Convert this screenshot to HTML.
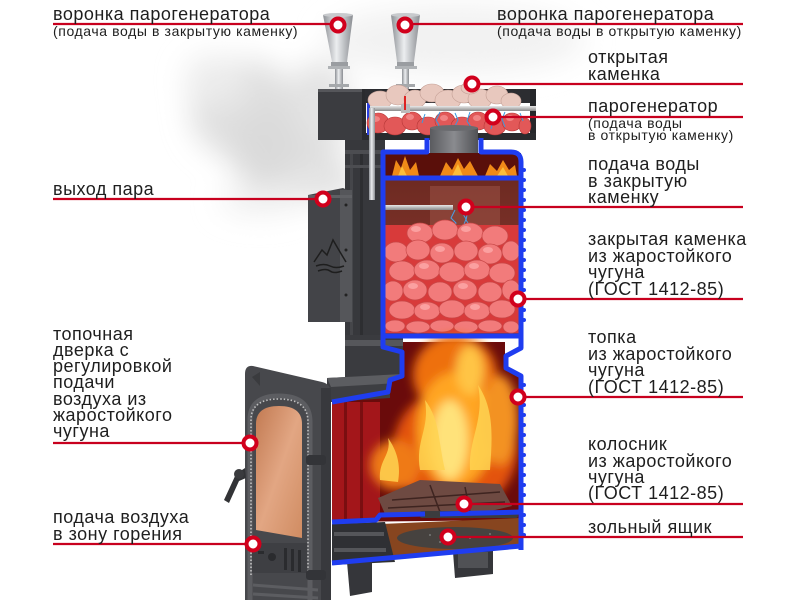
<!DOCTYPE html>
<html><head><meta charset="utf-8"><style>
html,body{margin:0;padding:0;background:#fff;}
svg{display:block;}
.t{font-family:"Liberation Sans","DejaVu Sans",sans-serif;font-size:18px;letter-spacing:0.5px;fill:#1e1e1e;}
.s{font-family:"Liberation Sans","DejaVu Sans",sans-serif;font-size:14px;letter-spacing:0.6px;fill:#1e1e1e;}
</style></head><body>
<svg width="800" height="600" viewBox="0 0 800 600" xmlns="http://www.w3.org/2000/svg">
<defs>
<filter id="cloud" x="-50%" y="-50%" width="200%" height="200%"><feGaussianBlur stdDeviation="14"/></filter>
<filter id="b5" x="-50%" y="-50%" width="200%" height="200%"><feGaussianBlur stdDeviation="5"/></filter>
<linearGradient id="metal" x1="0" x2="1" y1="0" y2="0"><stop offset="0" stop-color="#8d9095"/><stop offset="0.45" stop-color="#eceef0"/><stop offset="1" stop-color="#8a8d92"/></linearGradient>
<linearGradient id="pipe" x1="0" x2="0" y1="0" y2="1"><stop offset="0" stop-color="#e8e8e8"/><stop offset="1" stop-color="#8a8a8a"/></linearGradient>
<linearGradient id="glass" x1="0" x2="1" y1="0" y2="1"><stop offset="0" stop-color="#c27a52"/><stop offset="0.5" stop-color="#e2a683"/><stop offset="1" stop-color="#d08c62"/></linearGradient>
<linearGradient id="wall" x1="0" x2="0" y1="0" y2="1"><stop offset="0" stop-color="#6e2a22"/><stop offset="1" stop-color="#8c3b30"/></linearGradient>
<linearGradient id="neck" x1="0" x2="1"><stop offset="0" stop-color="#5a5b5f"/><stop offset="0.5" stop-color="#8a8b8f"/><stop offset="1" stop-color="#505155"/></linearGradient>
</defs>

<!-- steam cloud -->
<g filter="url(#cloud)">
<ellipse cx="455" cy="40" rx="130" ry="35" fill="#f2f2f2"/>
<ellipse cx="245" cy="110" rx="55" ry="50" fill="#e0e0e0"/>
<ellipse cx="285" cy="150" rx="55" ry="45" fill="#dadada"/>
<ellipse cx="320" cy="105" rx="30" ry="45" fill="#e3e3e3"/>
<ellipse cx="320" cy="180" rx="40" ry="22" fill="#e4e4e4"/>
<ellipse cx="215" cy="80" rx="30" ry="25" fill="#ececec"/>
<ellipse cx="260" cy="200" rx="40" ry="15" fill="#f0f0f0"/>
</g>

<!-- funnels -->
<g>
<polygon points="323,15 353,15 347,62 332,62" fill="url(#metal)"/>
<ellipse cx="338" cy="15" rx="15" ry="2" fill="#c8cacd"/>
<rect x="331" y="62" width="17" height="4" fill="#9a9da1"/>
<rect x="328" y="66" width="22" height="3" fill="#b0b3b6"/>
<rect x="335" y="69" width="8" height="20" fill="url(#metal)"/>
<rect x="329" y="84" width="20" height="3" fill="#a5a8ab"/>
<polygon points="391,15 420,15 414,62 397,62" fill="url(#metal)"/>
<ellipse cx="405.5" cy="15" rx="14.5" ry="2" fill="#c8cacd"/>
<rect x="397" y="62" width="17" height="4" fill="#9a9da1"/>
<rect x="395" y="66" width="22" height="3" fill="#b0b3b6"/>
<rect x="402" y="69" width="7" height="40" fill="url(#metal)"/>
<rect x="396" y="84" width="19" height="3" fill="#a5a8ab"/>
</g>

<!-- body behind upper chamber -->
<rect x="345" y="140" width="40" height="205" fill="#37383c"/>
<rect x="350" y="150" width="3" height="190" fill="#45464a"/>
<rect x="360" y="150" width="3" height="190" fill="#2d2e31"/>
<rect x="345" y="150" width="40" height="4" fill="#4c4d51"/>
<rect x="345" y="165" width="40" height="3" fill="#4c4d51"/>

<!-- open stone box -->
<rect x="318" y="89" width="47" height="51" fill="#3b3c40"/>
<rect x="318" y="89" width="47" height="3" fill="#55565a"/>
<rect x="362" y="89" width="4" height="51" fill="#2a2b2e"/>
<rect x="365" y="89" width="171" height="14" fill="#2c2d31"/>
<rect x="530" y="89" width="6" height="48" fill="#26272a"/>
<rect x="365" y="133" width="171" height="7" fill="#2a2b2e"/>
<rect x="367" y="103" width="3" height="32" fill="#2b3fe0"/>
<g fill="#e25858" stroke="#b83838" stroke-width="0.6">
<ellipse cx="378" cy="123" rx="11" ry="10"/><ellipse cx="395" cy="126" rx="11" ry="9"/>
<ellipse cx="412" cy="121" rx="10" ry="9"/><ellipse cx="428" cy="126" rx="11" ry="9"/>
<ellipse cx="445" cy="121" rx="10" ry="9"/><ellipse cx="462" cy="126" rx="11" ry="9"/>
<ellipse cx="478" cy="121" rx="10" ry="9"/><ellipse cx="495" cy="126" rx="11" ry="9"/>
<ellipse cx="512" cy="122" rx="10" ry="9"/><ellipse cx="525" cy="126" rx="6" ry="8"/>
</g>
<g fill="#f59090" opacity="0.8">
<ellipse cx="375" cy="119" rx="5" ry="3"/><ellipse cx="410" cy="117" rx="4" ry="3"/><ellipse cx="444" cy="118" rx="4" ry="3"/><ellipse cx="477" cy="118" rx="4" ry="3"/><ellipse cx="510" cy="118" rx="4" ry="3"/>
</g>
<g fill="#e8c8be" stroke="#c4a096" stroke-width="0.6">
<ellipse cx="380" cy="100" rx="12" ry="9"/><ellipse cx="398" cy="95" rx="12" ry="10"/>
<ellipse cx="415" cy="99" rx="11" ry="9"/><ellipse cx="432" cy="93" rx="12" ry="9"/>
<ellipse cx="448" cy="100" rx="13" ry="10"/><ellipse cx="464" cy="94" rx="12" ry="9"/>
<ellipse cx="480" cy="99" rx="12" ry="10"/><ellipse cx="497" cy="95" rx="11" ry="9"/>
<ellipse cx="511" cy="101" rx="10" ry="8"/><ellipse cx="470" cy="88" rx="9" ry="6"/>
</g>
<rect x="370" y="106" width="166" height="5" fill="url(#pipe)"/>
<rect x="401" y="104" width="9" height="9" fill="#bbb"/>
<rect x="404" y="96" width="2" height="14" fill="#d22"/>
<rect x="369" y="108" width="6" height="92" fill="url(#metal)"/>
<g stroke="#3a9ae0" stroke-width="1" fill="none">
<path d="M440 112 l-4 8 l3 5 l-3 6"/><path d="M455 113 l3 7 l-3 6"/><path d="M470 112 l-3 9 l4 6"/>
<path d="M490 114 l3 7 l-2 8"/><path d="M505 112 l-3 7 l3 8"/><path d="M520 113 l3 8"/><path d="M425 114 l-3 9"/>
</g>

<rect x="430" y="128" width="48" height="26" fill="url(#neck)"/>
<ellipse cx="454" cy="128" rx="24" ry="3" fill="#6a6b6f"/>

<!-- upper chamber -->
<rect x="383" y="153" width="138" height="24" fill="#5a0f0a"/>
<g fill="#f08a18">
<path d="M392 176 L396 160 L401 168 L405 156 L410 170 L416 162 L419 176 Z"/>
<path d="M440 176 L446 162 L452 170 L458 158 L464 169 L470 161 L478 176 Z"/>
<path d="M485 176 L490 164 L497 171 L503 160 L509 170 L515 165 L517 176 Z"/>
</g>
<g fill="#ffc640" opacity="0.85">
<path d="M398 176 L402 166 L407 176 Z"/><path d="M452 176 L458 164 L463 176 Z"/><path d="M497 176 L503 167 L508 176 Z"/>
</g>
<rect x="383" y="180" width="138" height="155" fill="url(#wall)"/>
<rect x="430" y="186" width="70" height="70" fill="#a55a4e" opacity="0.45"/>
<rect x="383" y="205" width="70" height="5" fill="url(#pipe)"/>
<g stroke="#4aa0e8" stroke-width="1" fill="none">
<path d="M455 210 l-4 8 l5 5 l-3 7"/><path d="M462 212 l4 7 l-3 8"/><path d="M468 210 l-2 10 l4 6"/>
</g>
<rect x="385" y="225" width="134" height="108" fill="#d83a3a"/>
<g fill="#f27b7b" stroke="#c84848" stroke-width="0.7">
<ellipse cx="420" cy="233" rx="13" ry="10"/><ellipse cx="445" cy="230" rx="13" ry="10"/><ellipse cx="470" cy="233" rx="13" ry="10"/><ellipse cx="495" cy="236" rx="13" ry="10"/>
<ellipse cx="396" cy="252" rx="12" ry="10"/><ellipse cx="418" cy="250" rx="12" ry="10"/><ellipse cx="442" cy="253" rx="12" ry="10"/><ellipse cx="466" cy="251" rx="12" ry="10"/><ellipse cx="490" cy="254" rx="12" ry="10"/><ellipse cx="511" cy="251" rx="9" ry="10"/>
<ellipse cx="402" cy="271" rx="13" ry="10"/><ellipse cx="427" cy="270" rx="13" ry="10"/><ellipse cx="452" cy="272" rx="13" ry="10"/><ellipse cx="477" cy="270" rx="13" ry="10"/><ellipse cx="502" cy="273" rx="13" ry="10"/>
<ellipse cx="393" cy="291" rx="10" ry="10"/><ellipse cx="415" cy="290" rx="12" ry="10"/><ellipse cx="440" cy="292" rx="12" ry="10"/><ellipse cx="465" cy="290" rx="12" ry="10"/><ellipse cx="490" cy="292" rx="12" ry="10"/><ellipse cx="511" cy="290" rx="9" ry="10"/>
<ellipse cx="402" cy="310" rx="13" ry="9"/><ellipse cx="427" cy="311" rx="13" ry="9"/><ellipse cx="452" cy="309" rx="13" ry="9"/><ellipse cx="477" cy="311" rx="13" ry="9"/><ellipse cx="502" cy="309" rx="13" ry="9"/>
<ellipse cx="395" cy="326" rx="10" ry="6"/><ellipse cx="418" cy="327" rx="12" ry="6"/><ellipse cx="442" cy="326" rx="12" ry="6"/><ellipse cx="466" cy="327" rx="12" ry="6"/><ellipse cx="490" cy="326" rx="12" ry="6"/><ellipse cx="511" cy="327" rx="8" ry="6"/>
</g>
<g fill="#ffb0b0" opacity="0.7">
<ellipse cx="416" cy="229" rx="5" ry="3"/><ellipse cx="466" cy="229" rx="5" ry="3"/><ellipse cx="440" cy="249" rx="5" ry="3"/><ellipse cx="488" cy="250" rx="5" ry="3"/><ellipse cx="424" cy="266" rx="5" ry="3"/><ellipse cx="474" cy="266" rx="5" ry="3"/><ellipse cx="413" cy="286" rx="5" ry="3"/><ellipse cx="463" cy="286" rx="5" ry="3"/><ellipse cx="425" cy="307" rx="5" ry="3"/><ellipse cx="475" cy="307" rx="5" ry="3"/>
</g>

<!-- steam outlet box -->
<path d="M308 195 L343 188 L352 192 L352 322 L308 322 Z" fill="#434448"/>
<rect x="340" y="190" width="12" height="132" fill="#55565a"/>
<rect x="308" y="195" width="44" height="3" fill="#5f6064"/>
<g fill="#222"><circle cx="346" cy="205" r="1.5"/><circle cx="346" cy="250" r="1.5"/><circle cx="346" cy="295" r="1.5"/></g>
<g stroke="#1e1e1e" stroke-width="1.5" fill="none">
<polyline points="314,262 322,250 327,255 333,240 340,252 346,262"/>
<path d="M316 266 q8 -3 14 0 t14 0"/><path d="M318 271 q8 -3 12 0 t12 0"/>
</g>

<!-- middle body between chambers -->
<path d="M345 335 L403 335 L403 380 L345 380 Z" fill="#3a3b3f"/>
<rect x="345" y="340" width="58" height="6" fill="#56575b"/>
<path d="M327 378 L403 374 L403 402 L327 402 Z" fill="#3d3e42"/>
<path d="M327 378 L403 374 L398 383 L331 387 Z" fill="#5c5d61"/>

<!-- firebox interior -->
<path d="M332 402 L390 398 L390 382 L403 378 L403 342 L505 342 L505 368 L520 376 L520 520 L332 522 Z" fill="#6a0b0b"/>
<rect x="332" y="402" width="48" height="118" fill="#a3161a"/>
<rect x="344" y="402" width="3" height="118" fill="#7a0e10"/>
<rect x="360" y="402" width="3" height="118" fill="#7a0e10"/>
<g filter="url(#b5)">
<ellipse cx="455" cy="450" rx="62" ry="62" fill="#e3520c"/>
<ellipse cx="455" cy="375" rx="42" ry="40" fill="#ee700e"/>
<ellipse cx="395" cy="465" rx="25" ry="25" fill="#ef7a12"/>
<ellipse cx="455" cy="430" rx="38" ry="58" fill="#ffa521"/>
<ellipse cx="500" cy="420" rx="18" ry="45" fill="#f39224"/>
<ellipse cx="450" cy="440" rx="18" ry="40" fill="#ffe27a"/>
<ellipse cx="470" cy="370" rx="14" ry="25" fill="#ffc445"/>
</g>
<g fill="#ffd451" opacity="0.85">
<path d="M420 470 C415 440 430 430 425 400 C440 420 438 440 445 470 Z"/>
<path d="M470 470 C468 440 485 420 478 385 C495 410 492 440 490 470 Z"/>
<path d="M380 480 C378 460 392 455 388 438 C400 455 400 470 398 482 Z"/>
</g>
<path d="M378 498 L420 480 L500 484 L512 506 L470 516 L385 514 Z" fill="#6e4a42"/>
<g stroke="#3e2420" stroke-width="1.5" fill="none">
<path d="M392 500 L500 492"/><path d="M388 508 L505 502"/><path d="M430 485 L440 512"/><path d="M465 487 L470 512"/>
</g>
<rect x="420" y="511" width="98" height="7" rx="2" fill="#3c3c3e"/>
<path d="M380 524 L520 518 L520 548 L390 560 Z" fill="#87451f"/>
<ellipse cx="455" cy="538" rx="58" ry="11" fill="#46423f"/>
<g fill="#777"><circle cx="430" cy="535" r="1"/><circle cx="450" cy="532" r="1"/><circle cx="470" cy="538" r="1"/><circle cx="490" cy="534" r="1"/><circle cx="440" cy="542" r="1"/></g>
<path d="M332 524 L385 522 L395 562 L332 565 Z" fill="#2f3034"/>
<rect x="334" y="532" width="50" height="4" fill="#55565a"/>
<rect x="334" y="548" width="52" height="4" fill="#55565a"/>
<path d="M347 562 L372 560 L372 592 L350 596 Z" fill="#35363a"/>
<path d="M453 552 L493 548 L493 574 L455 578 Z" fill="#35363a"/>
<rect x="458" y="552" width="30" height="16" fill="#505155"/>

<!-- blue outlines -->
<g stroke="#1f3df0" stroke-width="5" fill="none" stroke-linejoin="round">
<path d="M427 138 L427 152 L383 152 L383 336 L521 336 L521 162 Q521 152 511 152 L481 152 L481 138"/>
<path d="M383 178 L521 178"/>
<path d="M383 336 L383 347 L402 352 L402 376 L390 380 L388 392 L332 402"/>
<path d="M521 336 L521 348 L506 356 L506 368 L521 376 L521 550"/>
<path d="M332 563 L521 546"/>
<path d="M332 522 L376 520 L380 515 L425 514"/>
<path d="M522 512 L440 514"/>
</g>
<g fill="#1f3df0">
<circle cx="524" cy="170" r="2"/><circle cx="524" cy="180" r="2"/><circle cx="524" cy="190" r="2"/><circle cx="524" cy="200" r="2"/><circle cx="524" cy="210" r="2"/><circle cx="524" cy="220" r="2"/><circle cx="524" cy="230" r="2"/><circle cx="524" cy="240" r="2"/><circle cx="524" cy="250" r="2"/><circle cx="524" cy="260" r="2"/><circle cx="524" cy="270" r="2"/><circle cx="524" cy="280" r="2"/><circle cx="524" cy="290" r="2"/><circle cx="524" cy="310" r="2"/><circle cx="524" cy="320" r="2"/>
<circle cx="524" cy="385" r="2"/><circle cx="524" cy="405" r="2"/><circle cx="524" cy="415" r="2"/><circle cx="524" cy="425" r="2"/><circle cx="524" cy="435" r="2"/><circle cx="524" cy="445" r="2"/><circle cx="524" cy="455" r="2"/><circle cx="524" cy="465" r="2"/><circle cx="524" cy="475" r="2"/><circle cx="524" cy="485" r="2"/><circle cx="524" cy="495" r="2"/><circle cx="524" cy="515" r="2"/><circle cx="524" cy="525" r="2"/><circle cx="524" cy="535" r="2"/>
</g>

<!-- door -->
<path d="M253 366 L322 382 Q331 384 331 394 L331 600 L245 600 L245 374 Q245 365 253 366 Z" fill="#47484c"/>
<rect x="321" y="388" width="10" height="212" fill="#38393d"/>
<path d="M250 600 L250 420 Q250 396 279 396 Q310 396 310 422 L310 600" fill="none" stroke="#5c5d61" stroke-width="5"/>
<path d="M251 575 L251 420 Q251 399 279 399 Q308 399 308 422 L308 578" fill="none" stroke="#c0c0c0" stroke-width="1.6" stroke-dasharray="1.5 2"/>
<path d="M256 530 L256 424 Q256 406 279 406 Q302 406 302 424 L302 538 Z" fill="url(#glass)"/>
<rect x="252" y="543" width="55" height="30" fill="#3e3f43"/>
<g fill="#2a2b2e"><rect x="284" y="548" width="3" height="22"/><rect x="291" y="549" width="3" height="22"/><rect x="298" y="550" width="3" height="22"/></g>
<circle cx="272" cy="557" r="4" fill="#2a2b2e"/>
<rect x="258" y="551" width="6" height="3" fill="#2a2b2e"/>
<g fill="#333438"><rect x="306" y="455" width="20" height="10" rx="3"/><rect x="306" y="570" width="20" height="10" rx="3"/></g>
<path d="M253 585 L318 590" stroke="#5c5d61" stroke-width="3"/>
<path d="M253 594 L318 598" stroke="#5c5d61" stroke-width="3"/>
<path d="M245 468 L236 474 L224 500 L229 503 L239 481 L246 478 Z" fill="#323336"/>
<circle cx="239" cy="474" r="5" fill="#3a3b3e"/>
<path d="M252 377 L260 372 L260 386 Z" fill="#3a3b3e"/>

<!-- labels: lines and markers -->
<g stroke="#c8001e" stroke-width="2.2">
<line x1="53" y1="24" x2="338" y2="24"/>
<line x1="53" y1="199" x2="323" y2="199"/>
<line x1="53" y1="443" x2="250" y2="443"/>
<line x1="53" y1="544" x2="253" y2="544"/>
<line x1="405" y1="24" x2="743" y2="24"/>
<line x1="472" y1="84" x2="743" y2="84"/>
<line x1="493" y1="117" x2="743" y2="117"/>
<line x1="466" y1="207" x2="743" y2="207"/>
<line x1="518" y1="299" x2="743" y2="299"/>
<line x1="518" y1="397" x2="743" y2="397"/>
<line x1="464" y1="504" x2="743" y2="504"/>
<line x1="448" y1="537" x2="743" y2="537"/>
</g>
<g fill="#fff" stroke="#d1001c" stroke-width="4">
<circle cx="338" cy="25" r="6.5"/>
<circle cx="323" cy="199" r="6.5"/>
<circle cx="250" cy="443" r="6.5"/>
<circle cx="253" cy="544" r="6.5"/>
<circle cx="405" cy="25" r="6.5"/>
<circle cx="472" cy="84" r="6.5"/>
<circle cx="493" cy="117" r="6.5"/>
<circle cx="466" cy="207" r="6.5"/>
<circle cx="518" cy="299" r="6.5"/>
<circle cx="518" cy="397" r="6.5"/>
<circle cx="464" cy="504" r="6.5"/>
<circle cx="448" cy="537" r="6.5"/>
</g>

<!-- left text -->
<text class="t" x="53" y="20">воронка парогенератора</text>
<text class="s" x="53" y="36">(подача воды в закрытую каменку)</text>
<text class="t" x="53" y="195">выход пара</text>
<text class="t" x="53" y="340">топочная</text>
<text class="t" x="53" y="356">дверка с</text>
<text class="t" x="53" y="372">регулировкой</text>
<text class="t" x="53" y="388">подачи</text>
<text class="t" x="53" y="405">воздуха из</text>
<text class="t" x="53" y="421">жаростойкого</text>
<text class="t" x="53" y="437">чугуна</text>
<text class="t" x="53" y="523">подача воздуха</text>
<text class="t" x="53" y="540">в зону горения</text>

<!-- right text -->
<text class="t" x="497" y="20">воронка парогенератора</text>
<text class="s" x="497" y="36">(подача воды в открытую каменку)</text>
<text class="t" x="588" y="63">открытая</text>
<text class="t" x="588" y="80">каменка</text>
<text class="t" x="588" y="112">парогенератор</text>
<text class="s" x="588" y="128">(подача воды</text>
<text class="s" x="588" y="140">в открытую каменку)</text>
<text class="t" x="588" y="170">подача воды</text>
<text class="t" x="588" y="187">в закрытую</text>
<text class="t" x="588" y="203">каменку</text>
<text class="t" x="588" y="245">закрытая каменка</text>
<text class="t" x="588" y="262">из жаростойкого</text>
<text class="t" x="588" y="278">чугуна</text>
<text class="t" x="588" y="295">(ГОСТ 1412-85)</text>
<text class="t" x="588" y="343">топка</text>
<text class="t" x="588" y="360">из жаростойкого</text>
<text class="t" x="588" y="376">чугуна</text>
<text class="t" x="588" y="393">(ГОСТ 1412-85)</text>
<text class="t" x="588" y="450">колосник</text>
<text class="t" x="588" y="467">из жаростойкого</text>
<text class="t" x="588" y="483">чугуна</text>
<text class="t" x="588" y="499">(ГОСТ 1412-85)</text>
<text class="t" x="588" y="533">зольный ящик</text>
</svg>
</body></html>
